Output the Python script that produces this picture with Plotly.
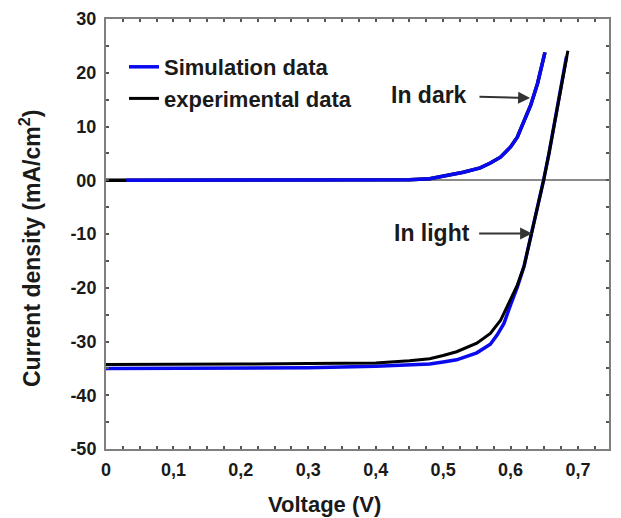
import plotly.graph_objects as go

# ---- data ----
# Dark J-V curves
v_dark_sim = [0.03, 0.1, 0.2, 0.3, 0.4, 0.45, 0.48, 0.505, 0.53, 0.555, 0.57, 0.585, 0.6, 0.61, 0.62, 0.63, 0.64, 0.645, 0.651]
j_dark_sim = [0.0, 0.0, 0.0, 0.0, 0.0, 0.1, 0.3, 0.85, 1.5, 2.3, 3.2, 4.3, 6.2, 8.0, 10.8, 14.0, 18.0, 20.5, 23.8]
v_dark_exp = [0.0, 0.1, 0.2, 0.3, 0.4, 0.45, 0.48, 0.505, 0.53, 0.555, 0.57, 0.585, 0.6, 0.61, 0.62, 0.63, 0.64, 0.645, 0.651]
j_dark_exp = [0.0, 0.0, 0.0, 0.0, 0.0, 0.1, 0.3, 0.85, 1.5, 2.3, 3.2, 4.3, 6.2, 8.0, 10.8, 14.0, 18.0, 20.5, 23.8]

# Light J-V curves
v_light_sim = [0.0, 0.1, 0.2, 0.3, 0.4, 0.45, 0.48, 0.5, 0.52, 0.55, 0.57, 0.58, 0.59, 0.6, 0.61, 0.62, 0.63, 0.64, 0.649, 0.657, 0.664, 0.67, 0.676, 0.683]
j_light_sim = [-35.0, -35.0, -35.0, -34.9, -34.6, -34.4, -34.2, -33.8, -33.4, -32.1, -30.5, -28.8, -26.7, -23.2, -19.9, -16.0, -10.6, -5.2, 0.0, 5.0, 10.0, 14.0, 18.0, 23.0]
v_light_exp = [0.0, 0.1, 0.2, 0.3, 0.4, 0.45, 0.48, 0.5, 0.52, 0.55, 0.57, 0.585, 0.6, 0.61, 0.62, 0.63, 0.64, 0.649, 0.657, 0.664, 0.67, 0.676, 0.685]
j_light_exp = [-34.3, -34.3, -34.2, -34.1, -34.0, -33.6, -33.2, -32.6, -31.9, -30.3, -28.5, -26.1, -22.0, -19.5, -16.0, -10.6, -5.2, 0.0, 5.0, 10.0, 14.0, 18.0, 24.1]

x_tickvals = [0, 0.1, 0.2, 0.3, 0.4, 0.5, 0.6, 0.7]
x_ticktext = ["0", "0,1", "0,2", "0,3", "0,4", "0,5", "0,6", "0,7"]
y_tickvals = [30, 20, 10, 0, -10, -20, -30, -40, -50]
y_ticktext = ["30", "20", "10", "00", "-10", "-20", "-30", "-40", "-50"]

FONT = "Liberation Sans, Arial, sans-serif"
BLUE = "#0a0aee"
BLACK = "#000000"
AXC = "#7f7f7f"
TXT = "#1a1a1a"

fig = go.Figure()
fig.add_trace(go.Scatter(x=v_dark_exp, y=j_dark_exp, mode="lines",
                         line=dict(color=BLACK, width=3.5),
                         name="experimental data", legendgroup="exp", showlegend=False))
fig.add_trace(go.Scatter(x=v_light_sim, y=j_light_sim, mode="lines",
                         line=dict(color=BLUE, width=3.5),
                         name="Simulation data", legendgroup="sim", showlegend=False))
fig.add_trace(go.Scatter(x=v_light_exp, y=j_light_exp, mode="lines",
                         line=dict(color=BLACK, width=3),
                         name="experimental data", legendgroup="exp", showlegend=True, legendrank=2))
fig.add_trace(go.Scatter(x=v_dark_sim, y=j_dark_sim, mode="lines",
                         line=dict(color=BLUE, width=3.5),
                         name="Simulation data", legendgroup="sim", showlegend=True, legendrank=1))

axis_common = dict(
    showline=True, linecolor=AXC, linewidth=2, mirror="ticks",
    ticks="inside", ticklen=3, tickwidth=1.5, tickcolor="#555555",
    showgrid=False, automargin=False, ticklabeloverflow="allow",
    tickfont=dict(family=FONT, size=18, color=TXT, weight="bold"),
)

fig.update_xaxes(range=[0, 0.746], tickvals=x_tickvals, ticktext=x_ticktext,
                 zeroline=False,
                 minor=dict(dtick=0.025, tick0=0, ticks="inside", ticklen=3, tickcolor="#555555"),
                 ticklabelstandoff=3,
                 **axis_common)
fig.update_yaxes(range=[-50, 30], tickvals=y_tickvals, ticktext=y_ticktext,
                 zeroline=True, zerolinecolor="#8a8a8a", zerolinewidth=1.5,
                 minor=dict(dtick=5, tick0=0, ticks="inside", ticklen=3, tickcolor="#555555"),
                 ticklabelstandoff=4,
                 **axis_common)

PH = 430.0  # plot height in px
annots = [
    # axis titles
    dict(text="Voltage (V)", xref="paper", yref="paper", x=(324 - 106) / 503, y=(449 - 504) / PH,
         showarrow=False, xanchor="center", yanchor="middle",
         font=dict(family=FONT, size=22, color=TXT, weight="bold")),
    dict(text="Current density (mA/cm<sup>2</sup>)", xref="paper", yref="paper",
         x=(30 - 106) / 503, y=(449 - 249) / PH, textangle=-90,
         showarrow=False, xanchor="center", yanchor="middle",
         font=dict(family=FONT, size=23, color=TXT, weight="bold")),
    # curve labels with arrows
    dict(text="In dark", x=0.629, y=15.3, ax=0.479, ay=15.8,
         xref="x", yref="y", axref="x", ayref="y",
         showarrow=True, arrowhead=2, arrowsize=1.2, arrowwidth=2, arrowcolor="#333333",
         startstandoff=11,
         font=dict(family=FONT, size=23, color=TXT, weight="bold")),
    dict(text="In light", x=0.632, y=-9.9, ax=0.483, ay=-9.9,
         xref="x", yref="y", axref="x", ayref="y",
         showarrow=True, arrowhead=2, arrowsize=1.2, arrowwidth=2, arrowcolor="#333333",
         startstandoff=8,
         font=dict(family=FONT, size=23, color=TXT, weight="bold")),
]

# margins compensate the 8px page margin of the html body
fig.update_layout(
    width=621, height=518,
    margin=dict(l=98, r=20, t=11, b=77),
    paper_bgcolor="white", plot_bgcolor="white",
    annotations=annots,
    legend=dict(x=(124 - 106) / 503, y=(449 - 46) / PH, xanchor="left", yanchor="top",
                bgcolor="rgba(0,0,0,0)", borderwidth=0, itemwidth=30,
                tracegroupgap=0, traceorder="normal",
                font=dict(family=FONT, size=22, color=TXT, weight="bold")),
)

fig.write_html("out.html")
